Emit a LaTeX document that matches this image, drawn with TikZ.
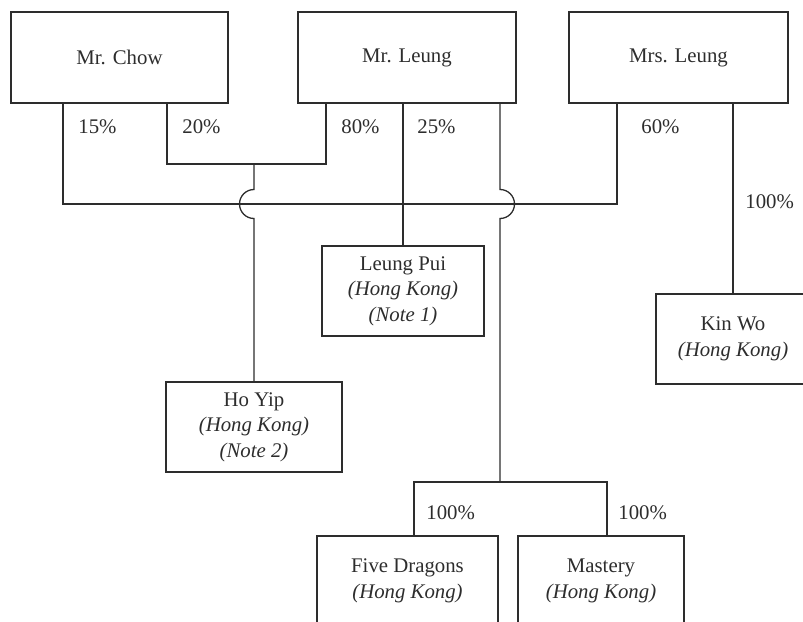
\documentclass[tikz,border=0pt]{standalone}
\usepackage{fontspec}
\setmainfont{Liberation Serif}
\usepackage{tikz}
\usetikzlibrary{calc,positioning}
\definecolor{inkgray}{RGB}{45,45,45}

\begin{document}
\begin{tikzpicture}[
  x=0.5pt, y=-0.5pt,
  font=\fontsize{10.4pt}{12.75pt}\selectfont,
  box/.style={draw=inkgray, rectangle, minimum height=45pt, align=center, inner sep=0pt, line width=0.65pt, text=inkgray},
  topbox/.style={box, minimum height=45.5pt},
  pct/.style={anchor=west, inner sep=0pt, text=inkgray},
  link/.style={draw=inkgray, line width=0.65pt},
]
\useasboundingbox (0,0) rectangle (803,621);
\clip (0,0) rectangle (803,621);
% owners
\node[topbox, minimum width=108.5pt] (chow) at (119.5,57.5) {\raisebox{-1.5pt}{Mr. Chow}};
\node[topbox, minimum width=109pt] (mrleung) at (407,57.5) {\raisebox{-1.5pt}{Mr. Leung}};
\node[topbox, minimum width=109.5pt] (mrsleung) at (678.5,57.5) {\raisebox{-1.5pt}{Mrs. Leung}};
% companies
\node[box, minimum width=81pt] (leungpui) at (403,291) {Leung Pui\\\textit{(Hong Kong)}\\\textit{(Note 1)}};
\node[box, minimum width=88pt] (hoyip) at (254,427) {Ho Yip\\\textit{(Hong Kong)}\\\textit{(Note 2)}};
\node[box, minimum width=77pt] (kinwo) at (733,339) {Kin Wo\\\textit{(Hong Kong)}};
\node[box, minimum width=90.5pt] (fived) at (407.5,581) {Five Dragons\\\textit{(Hong Kong)}};
\node[box, minimum width=83pt] (mastery) at (601,581) {Mastery\\\textit{(Hong Kong)}};
% junction points
\coordinate (busL) at (63,204);
\coordinate (busR) at (617,204);
\coordinate (chowB) at (167,164);
\coordinate (leungA) at (326,164);
\coordinate (subs) at (500,482);
\coordinate (subL) at (414,482);
\coordinate (subR) at (607,482);
% connectors
\draw[link] (busL |- chow.south) -- (busL) -- (busR) -- (busR |- mrsleung.south);
\draw[link] (leungpui.north |- mrleung.south) -- (leungpui.north);
\draw[link] (chowB |- chow.south) -- (chowB) -- (leungA) -- (leungA |- mrleung.south);
\draw[link] (hoyip.north |- chowB) -- ($(hoyip.north |- busL)+(0,-14.5)$)
  arc[start angle=90, end angle=270, radius=7.25pt] -- (hoyip.north);
\draw[link] (subs |- mrleung.south) -- ($(subs |- busL)+(0,-14.5)$)
  arc[start angle=90, end angle=-90, radius=7.25pt] -- (subs);
\draw[link] (subL |- fived.north) -- (subL) -- (subR) -- (subR |- mastery.north);
\draw[link] (kinwo.north |- mrsleung.south) -- (kinwo.north);
% percentages
\node[pct] (p15) at (78,127) {15\%};
\node[pct] (p20) at (182,127) {20\%};
\node[pct] (p80) at (341,127) {80\%};
\node[pct] (p25) at (417,127) {25\%};
\node[pct] (p60) at (641,127) {60\%};
\node[pct] (pkw) at (745,202) {100\%};
\node[pct] (pfd) at (426,513) {100\%};
\node[pct] (pms) at (618,513) {100\%};
\end{tikzpicture}
\end{document}
